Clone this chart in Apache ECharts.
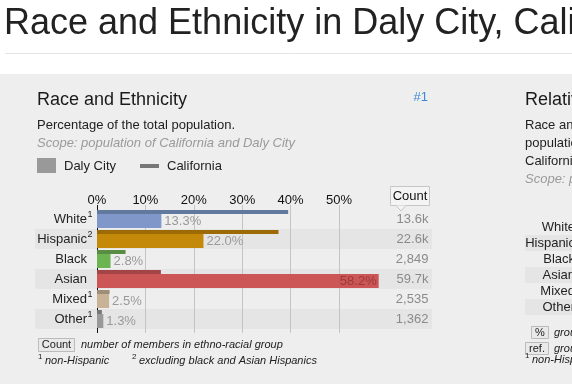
<!DOCTYPE html>
<html><head><meta charset="utf-8">
<script src="https://cdn.jsdelivr.net/npm/echarts@6/dist/echarts.min.js"></script>
<style>html,body{margin:0;padding:0;background:#eeeeee;} #c{width:572px;height:384px;}</style>
</head><body><div id="c"></div>
<script>
// ---- data ----
const categories = ['White', 'Hispanic', 'Black', 'Asian', 'Mixed', 'Other'];
const footnoteMarks = ['1', '2', '', '', '1', '1'];
const dalyCity = [13.3, 22.0, 2.8, 58.2, 2.5, 1.3];
const california = [39.5, 37.5, 5.9, 13.2, 2.6, 1.0];
const countLabels = ['13.6k', '22.6k', '2,849', '59.7k', '2,535', '1,362'];
const xTickValues = [0, 10, 20, 30, 40, 50];

// ---- styles ----
const dalyColors = ['#7f97c9', '#c5890a', '#6db352', '#cc5555', '#c9b396', '#999999'];
const caColors = ['#61789f', '#9c6b06', '#5a8d44', '#a34545', '#9f8d76', '#777777'];
const FONT = '"Liberation Sans", Arial, Helvetica, sans-serif';

const chart = echarts.init(document.getElementById('c'), null, {renderer: 'canvas'});

function catLabel(val, idx) {
  const mark = footnoteMarks[categories.indexOf(val)] || ' ';
  return '{b|' + val + '}{s|' + mark + '}';
}
const catRich = {
  b: {fontSize: 13, color: '#222', fontFamily: FONT, lineHeight: 18},
  s: {fontSize: 9, color: '#222', fontFamily: FONT, lineHeight: 9, verticalAlign: 'top', width: 6, align: 'left'}
};

function txt(x, y, text, opt) {
  opt = opt || {};
  return {
    type: 'text', x: x, y: y, z: 10,
    style: Object.assign({
      text: text, fontSize: 13, fontFamily: FONT, fill: '#222',
      verticalAlign: 'middle', align: 'left'
    }, opt)
  };
}

const graphics = [
  {type: 'rect', z: -10, shape: {x: 0, y: 0, width: 572, height: 74}, style: {fill: '#ffffff'}},
  {type: 'line', z: -5, shape: {x1: 5, y1: 53.5, x2: 572, y2: 53.5}, style: {stroke: '#e4e4e4', lineWidth: 1}},
  txt(4, 24, 'Race and Ethnicity in Daly City, California', {fontSize: 36, fill: '#222'}),
  // left card
  txt(37, 100, 'Race and Ethnicity', {fontSize: 18, fill: '#1a1a1a'}),
  txt(428, 97, '#1', {fontSize: 13, fill: '#3d8bd8', align: 'right'}),
  txt(37, 125, 'Percentage of the total population.', {fontSize: 13, fill: '#222'}),
  txt(37, 143, 'Scope: population of California and Daly City', {fontSize: 13, fill: '#9a9a9a', fontStyle: 'italic'}),
  {type: 'rect', z: 10, shape: {x: 37, y: 158, width: 19, height: 15}, style: {fill: '#999999'}},
  txt(64, 166, 'Daly City', {fontSize: 13}),
  {type: 'rect', z: 10, shape: {x: 140, y: 164, width: 19, height: 4}, style: {fill: '#777777'}},
  txt(167, 166, 'California', {fontSize: 13}),
  // Count header
  {type: 'rect', z: 10, shape: {x: 390.5, y: 186.5, width: 39, height: 19}, style: {fill: '#f4f4f4', stroke: '#c6c6c6', lineWidth: 1}},
  {type: 'polygon', z: 11, shape: {points: [[396, 205.5], [406, 205.5], [401, 211]]}, style: {fill: '#f4f4f4'}},
  {type: 'polyline', z: 11, shape: {points: [[396, 205.5], [401, 211], [406, 205.5]]}, style: {stroke: '#c6c6c6', lineWidth: 1, fill: null}},
  txt(410, 196, 'Count', {fontSize: 13, fill: '#111', align: 'center'}),
  // footnotes
  {type: 'rect', z: 10, shape: {x: 38.5, y: 338.5, width: 36, height: 13}, style: {fill: '#e9e9e9', stroke: '#bbbbbb', lineWidth: 1}},
  txt(56.5, 345, 'Count', {fontSize: 11, fill: '#222', align: 'center'}),
  txt(81, 345, 'number of members in ethno-racial group', {fontSize: 11, fill: '#222', fontStyle: 'italic'}),
  txt(38, 357, '1', {fontSize: 8, fill: '#222'}),
  txt(45, 361, 'non-Hispanic', {fontSize: 11, fill: '#222', fontStyle: 'italic'}),
  txt(132, 357, '2', {fontSize: 8, fill: '#222'}),
  txt(139, 361, 'excluding black and Asian Hispanics', {fontSize: 11, fill: '#222', fontStyle: 'italic'}),
  // right card (clipped)
  txt(525, 100, 'Relative Race and Ethnicity', {fontSize: 18, fill: '#1a1a1a'}),
  txt(525, 125, 'Race and ethnicity of the', {fontSize: 13}),
  txt(525, 143, 'population of Daly City relative to', {fontSize: 13}),
  txt(525, 161, 'California.', {fontSize: 13}),
  txt(525, 179, 'Scope: population of California and Daly City', {fontSize: 13, fill: '#9a9a9a', fontStyle: 'italic'}),
  {type: 'rect', z: 10, shape: {x: 531.5, y: 326.5, width: 17, height: 12}, style: {fill: '#e9e9e9', stroke: '#bbbbbb', lineWidth: 1}},
  txt(540, 332.5, '%', {fontSize: 11, fill: '#222', align: 'center'}),
  txt(554, 332.5, 'group percentage', {fontSize: 11, fill: '#222', fontStyle: 'italic'}),
  {type: 'rect', z: 10, shape: {x: 525.5, y: 342.5, width: 23, height: 12}, style: {fill: '#e9e9e9', stroke: '#bbbbbb', lineWidth: 1}},
  txt(537, 348.5, 'ref.', {fontSize: 11, fill: '#222', align: 'center'}),
  txt(554, 348.5, 'group reference', {fontSize: 11, fill: '#222', fontStyle: 'italic'}),
  txt(525, 356, '1', {fontSize: 8, fill: '#222'}),
  txt(532, 360, 'non-Hispanic', {fontSize: 11, fill: '#222', fontStyle: 'italic'})
];

const splitColors = ['#111111', '#c4c4c4', '#c4c4c4', '#c4c4c4', '#c4c4c4', '#c4c4c4', 'rgba(0,0,0,0)'];

const option = {
  animation: false,
  backgroundColor: '#eeeeee',
  textStyle: {fontFamily: FONT},
  grid: [
    {left: 35, top: 209, width: 397, height: 120},
    {left: 97, top: 205, width: 290.4, height: 128},
    {left: 97, top: 209, width: 290.4, height: 120},
    {left: 525, top: 219, width: 80, height: 96}
  ],
  xAxis: [
    {gridIndex: 0, type: 'value', show: false, min: 0, max: 1},
    {gridIndex: 1, type: 'value', min: 0, max: 60, interval: 10, position: 'top',
      axisLine: {show: false}, axisTick: {show: false},
      axisLabel: {margin: -2, fontSize: 13, color: '#111', fontFamily: FONT,
        formatter: v => xTickValues.indexOf(v) >= 0 ? v + '%' : ''},
      splitLine: {show: true, showMinLine: true, showMaxLine: true, lineStyle: {color: splitColors, width: 1}},
      z: 1},
    {gridIndex: 2, type: 'value', min: 0, max: 60, show: false},
    {gridIndex: 3, type: 'value', show: false, min: 0, max: 1}
  ],
  yAxis: [
    {gridIndex: 0, type: 'category', data: categories, inverse: true,
      axisLine: {show: false}, axisTick: {show: false}, axisLabel: {show: false},
      splitArea: {show: true, areaStyle: {color: ['rgba(0,0,0,0)', '#e5e5e5']}}, z: 0},
    {gridIndex: 1, type: 'value', show: false},
    {gridIndex: 2, type: 'category', data: categories, inverse: true,
      axisLine: {show: false}, axisTick: {show: false},
      axisLabel: {margin: 4, formatter: catLabel, rich: catRich}},
    {gridIndex: 2, type: 'category', data: countLabels, inverse: true, position: 'right',
      axisLine: {show: false}, axisTick: {show: false},
      axisLabel: {margin: 41, align: 'right', fontSize: 13, color: '#8a8a8a', fontFamily: FONT}},
    {gridIndex: 3, type: 'category', data: categories, inverse: true,
      axisLine: {show: false}, axisTick: {show: false},
      axisLabel: {margin: -56, align: 'right', formatter: catLabel, rich: catRich},
      splitArea: {show: true, areaStyle: {color: ['rgba(0,0,0,0)', '#e5e5e5']}}}
  ],
  series: [
    {name: 'California', type: 'bar', xAxisIndex: 2, yAxisIndex: 2, barWidth: 4, barGap: '0%', z: 3,
      data: california.map((v, i) => ({value: v, itemStyle: {color: caColors[i]}}))},
    {name: 'Daly City', type: 'bar', xAxisIndex: 2, yAxisIndex: 2, barWidth: 14, barGap: '0%', z: 3,
      label: {show: true, position: 'right', distance: 3, fontSize: 13, color: '#9a9a9a', fontFamily: FONT,
        formatter: p => p.value.toFixed(1) + '%'},
      data: dalyCity.map((v, i) => ({
        value: v, itemStyle: {color: dalyColors[i]},
        label: v > 50 ? {position: 'insideRight', distance: 2, color: '#9a3b3b'} : undefined
      }))}
  ],
  graphic: graphics
};
chart.setOption(option);
</script>
</body></html>
